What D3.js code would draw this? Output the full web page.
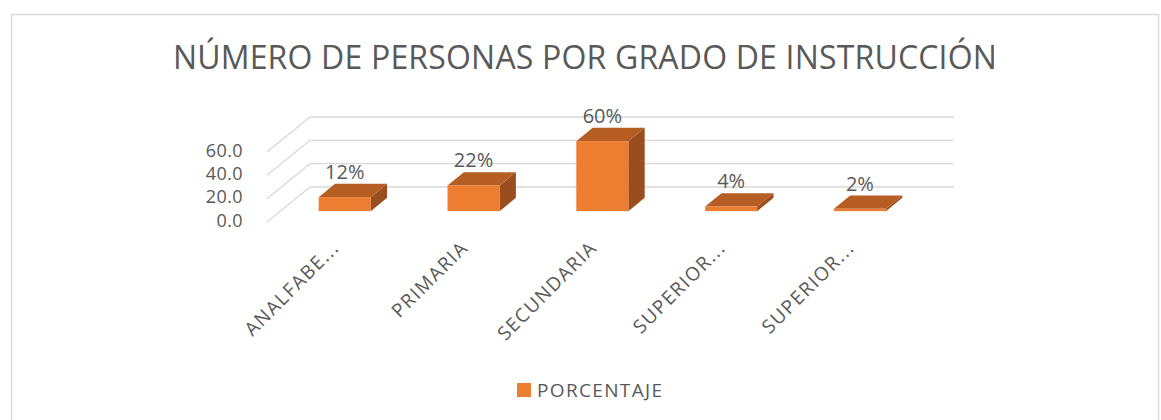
<!DOCTYPE html>
<html><head><meta charset="utf-8">
<script src="https://cdn.jsdelivr.net/npm/d3@7"></script>
<style>body{margin:0;background:#fff}svg{display:block}text{font-family:"Open Sans",sans-serif;fill:#595959}</style>
</head><body><svg id="c" width="1161" height="420"></svg>
<script>
const title = "NÚMERO DE PERSONAS POR GRADO DE INSTRUCCIÓN";
const categories = ["ANALFABE...", "PRIMARIA", "SECUNDARIA", "SUPERIOR...", "SUPERIOR..."];
const values = [12, 22, 60, 4, 2];
const valueLabels = ["12%", "22%", "60%", "4%", "2%"];
const tickValues = [0, 20, 40, 60];
const tickLabels = ["0.0", "20.0", "40.0", "60.0"];
const seriesName = "PORCENTAJE";

const svg = d3.select("#c");
svg.append("rect").attr("x",11.5).attr("y",14.5).attr("width",1147).attr("height",430)
  .attr("fill","#fff").attr("stroke","#D9D9D9").attr("stroke-width",1.5);

function fitSpacing(sel, target){
  const t = sel.node();
  const w = t.getComputedTextLength();
  const n = t.textContent.length;
  const ls = (target - w) / Math.max(1, n-1);
  sel.style("letter-spacing", ls + "px");
  return ls;
}

const tt = svg.append("text").attr("x",585).attr("y",69).attr("text-anchor","middle")
  .style("font-size","32px").text(title);
fitSpacing(tt, 824);

// 3D geometry
const DX = 43, DY = -35;
const f0 = 0.31, f1 = 0.69;
const x = d3.scaleBand().domain(d3.range(categories.length)).range([267, 911]);
const y = d3.scaleLinear().domain([0, 60]).range([222, 152]);

const grid = svg.append("g").attr("stroke","#D9D9D9").attr("stroke-width",1.3).attr("fill","none");
tickValues.forEach(v => {
  grid.append("line").attr("x1",267).attr("y1",y(v)).attr("x2",267+DX).attr("y2",y(v)+DY);
  grid.append("line").attr("x1",267+DX).attr("y1",y(v)+DY).attr("x2",911+DX).attr("y2",y(v)+DY);
});

svg.append("g").selectAll("text").data(tickValues).join("text")
  .attr("x",243).attr("y",(v)=>y(v)-1.5).attr("dy","0.35em").attr("text-anchor","end")
  .style("font-size","18px").style("letter-spacing","0.4px").text((v,i)=>tickLabels[i]);

const barW = x.bandwidth()*0.404;
const bars = svg.append("g");
values.forEach((v,i) => {
  const xl = x(i) + (x.bandwidth()-barW)/2 + f0*DX;
  const xr = xl + barW;
  const yb = y(0) + f0*DY;
  const yt = y(v) + f0*DY;
  const ddx = (f1-f0)*DX, ddy = (f1-f0)*DY;
  bars.append("path").attr("fill","#9A4E1D")
    .attr("d",`M${xr},${yb}L${xr+ddx},${yb+ddy}L${xr+ddx},${yt+ddy}L${xr},${yt}Z`);
  bars.append("path").attr("fill","#B65D23")
    .attr("d",`M${xl},${yt}L${xr},${yt}L${xr+ddx},${yt+ddy}L${xl+ddx},${yt+ddy}Z`);
  bars.append("rect").attr("fill","#ED7D31").attr("x",xl).attr("y",yt).attr("width",barW).attr("height",Math.max(0.5,yb-yt));
  svg.append("text").attr("x",(xl+xr)/2).attr("y",y(v)+f1*DY-5).attr("text-anchor","middle")
    .style("font-size","20px").text(valueLabels[i]);
});

svg.append("g").selectAll("text").data(categories).join("text")
  .attr("text-anchor","end").style("font-size","19px").style("letter-spacing","1.5px")
  .attr("transform",(d,i)=>`translate(${x(i)+x.bandwidth()/2+9},249) rotate(-45)`)
  .text(d=>d);

svg.append("rect").attr("x",517).attr("y",383).attr("width",14).attr("height",14).attr("fill","#ED7D31");
const lt = svg.append("text").attr("x",537).attr("y",397).style("font-size","19px").text(seriesName);
fitSpacing(lt, 125);
</script></body></html>
